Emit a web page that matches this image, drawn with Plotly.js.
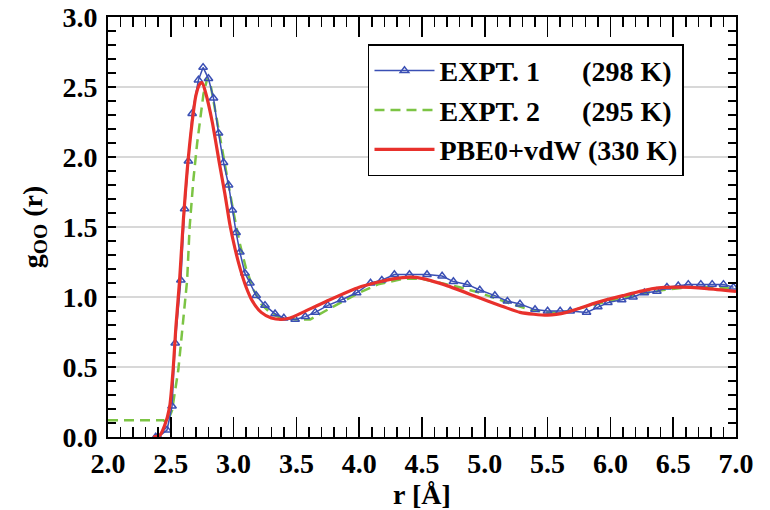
<!DOCTYPE html>
<html>
<head>
<meta charset="utf-8">
<script src="https://cdn.plot.ly/plotly-3.0.1.min.js"></script>
<style>
  html, body { margin: 0; padding: 0; background: #fff; }
  #chart { width: 770px; height: 510px; }
</style>
</head>
<body>
<div id="chart"></div>
<script>
// Oxygen-oxygen radial distribution function g_OO(r) of liquid water

// EXPT. 1 (298 K)
const expt1R = [2.38, 2.40, 2.47, 2.51, 2.535, 2.58, 2.61, 2.64, 2.67, 2.72, 2.757, 2.80, 2.84, 2.88,
  2.92, 2.96, 2.99, 3.02, 3.05, 3.09, 3.13, 3.18, 3.25, 3.33, 3.40, 3.49, 3.57, 3.65, 3.75, 3.86,
  3.98, 4.09, 4.18, 4.28, 4.40, 4.54, 4.66, 4.75, 4.86, 4.96, 5.08, 5.18, 5.28, 5.40, 5.50, 5.60,
  5.68, 5.81, 5.90, 5.98, 6.09, 6.18, 6.27, 6.37, 6.45, 6.54, 6.62, 6.72, 6.81, 6.90, 6.98];
const expt1G = [0.00, 0.00, 0.05, 0.22, 0.67, 1.12, 1.63, 1.97, 2.31, 2.55, 2.64, 2.56, 2.42, 2.17,
  1.96, 1.80, 1.62, 1.46, 1.32, 1.17, 1.10, 1.01, 0.94, 0.88, 0.85, 0.84, 0.86, 0.89, 0.94, 0.98,
  1.03, 1.10, 1.12, 1.16, 1.16, 1.16, 1.15, 1.11, 1.09, 1.05, 1.01, 0.97, 0.95, 0.91, 0.90, 0.90,
  0.90, 0.89, 0.93, 0.96, 0.98, 1.00, 1.03, 1.04, 1.07, 1.08, 1.09, 1.09, 1.09, 1.09, 1.07];

// EXPT. 2 (295 K)
const expt2R = [2.00, 2.44, 2.47, 2.51, 2.56, 2.59, 2.63, 2.65, 2.68, 2.71, 2.73, 2.76, 2.79, 2.82,
  2.87, 2.93, 2.96, 3.00, 3.05, 3.10, 3.16, 3.22, 3.30, 3.38, 3.50, 3.61, 3.75, 3.87, 4.00, 4.15,
  4.35, 4.50, 4.65, 4.80, 4.96, 5.18, 5.36, 5.50, 5.62, 5.80, 6.02, 6.22, 6.42, 6.62, 6.82, 7.00];
const expt2G = [0.12, 0.12, 0.10, 0.19, 0.48, 0.76, 1.12, 1.50, 1.84, 2.10, 2.25, 2.45, 2.56, 2.50,
  2.25, 1.94, 1.80, 1.60, 1.38, 1.20, 1.05, 0.95, 0.88, 0.85, 0.84, 0.84, 0.91, 0.97, 1.03, 1.09,
  1.13, 1.13, 1.10, 1.07, 1.03, 0.96, 0.91, 0.89, 0.89, 0.93, 0.98, 1.02, 1.05, 1.07, 1.07, 1.06];

// PBE0+vdW (330 K)
const pbeR = [2.36, 2.41, 2.45, 2.49, 2.52, 2.54, 2.57, 2.60, 2.63, 2.67, 2.70, 2.73, 2.75, 2.78,
  2.83, 2.89, 2.93, 2.97, 3.01, 3.05, 3.10, 3.15, 3.22, 3.30, 3.38, 3.45, 3.55, 3.74, 4.00, 4.27,
  4.45, 4.67, 4.94, 5.12, 5.28, 5.50, 5.65, 5.89, 6.10, 6.34, 6.55, 6.77, 7.00];
const pbeG = [0.00, 0.01, 0.08, 0.21, 0.50, 0.78, 1.12, 1.55, 1.90, 2.25, 2.44, 2.52, 2.53, 2.45,
  2.25, 1.94, 1.74, 1.52, 1.35, 1.21, 1.07, 0.97, 0.89, 0.85, 0.84, 0.85, 0.89, 0.97, 1.07, 1.13,
  1.14, 1.09, 1.00, 0.94, 0.89, 0.87, 0.89, 0.96, 1.01, 1.06, 1.07, 1.06, 1.04];

const seriesNames = [
  'EXPT. 1\u00a0\u00a0\u00a0\u00a0\u00a0\u00a0(298 K)',
  'EXPT. 2\u00a0\u00a0\u00a0\u00a0\u00a0\u00a0(295 K)',
  'PBE0+vdW (330 K)'
];

const xTickVals = [2.0, 2.5, 3.0, 3.5, 4.0, 4.5, 5.0, 5.5, 6.0, 6.5, 7.0];
const xTickText = ['2.0', '2.5', '3.0', '3.5', '4.0', '4.5', '5.0', '5.5', '6.0', '6.5', '7.0'];
const yTickVals = [0.0, 0.5, 1.0, 1.5, 2.0, 2.5, 3.0];
const yTickText = ['0.0', '0.5', '1.0', '1.5', '2.0', '2.5', '3.0'];

const serif = '"Liberation Serif", "DejaVu Serif", serif';
const bold28 = { family: serif, size: 28, color: '#000', weight: 'bold' };

const traces = [
  {
    x: expt2R, y: expt2G, name: seriesNames[1], legendrank: 2,
    type: 'scatter', mode: 'lines',
    line: { color: '#7cc444', width: 2.5, dash: '10px,6px' }
  },
  {
    x: expt1R, y: expt1G, name: seriesNames[0], legendrank: 1,
    type: 'scatter', mode: 'lines+markers',
    line: { color: '#3a4fb4', width: 1.5 },
    marker: { symbol: 'triangle-up-open', size: 7.5, color: '#3a4fb4', line: { width: 1.5 } }
  },
  {
    x: pbeR, y: pbeG, name: seriesNames[2], legendrank: 3,
    type: 'scatter', mode: 'lines',
    line: { color: '#e8312c', width: 3.2, shape: 'spline', smoothing: 0.6 }
  }
];

const layout = {
  width: 770, height: 510,
  margin: { l: 108, r: 34, t: 17, b: 73 },
  paper_bgcolor: '#ffffff', plot_bgcolor: '#ffffff',
  font: bold28,
  showlegend: true,
  legend: {
    x: 0.414, y: 0.935, xanchor: 'left', yanchor: 'top',
    bordercolor: '#000', borderwidth: 1.5, bgcolor: '#fff',
    font: bold28,
    itemwidth: 60, tracegroupgap: 0
  },
  xaxis: {
    range: [2.0, 7.0], tickmode: 'array', tickvals: xTickVals, ticktext: xTickText,
    ticks: 'inside', ticklen: 20, tickwidth: 1.5, tickcolor: '#000',
    minor: { dtick: 0.1, ticks: 'inside', ticklen: 10, tickwidth: 1.5, tickcolor: '#000', showgrid: false },
    showline: true, linecolor: '#000', linewidth: 2, mirror: 'ticks',
    showgrid: false, zeroline: false,
    tickfont: bold28,
    ticklabelstandoff: 0,
    title: { text: 'r [Å]', font: bold28, standoff: 2 }
  },
  yaxis: {
    range: [0.0, 3.0], tickmode: 'array', tickvals: yTickVals, ticktext: yTickText,
    ticks: 'inside', ticklen: 0, tickcolor: '#000',
    minor: { dtick: 0.1, ticks: 'inside', ticklen: 8, tickwidth: 1.5, tickcolor: '#000', showgrid: false },
    showline: true, linecolor: '#000', linewidth: 2, mirror: 'ticks',
    showgrid: true, gridcolor: '#d8d8d8', gridwidth: 2, zeroline: false,
    tickfont: bold28,
    ticklabelstandoff: 3,
    title: { text: 'g<sub>OO</sub> (r)', font: bold28, standoff: 12 }
  }
};

Plotly.newPlot('chart', traces, layout, { staticPlot: true, displayModeBar: false });
</script>
</body>
</html>
